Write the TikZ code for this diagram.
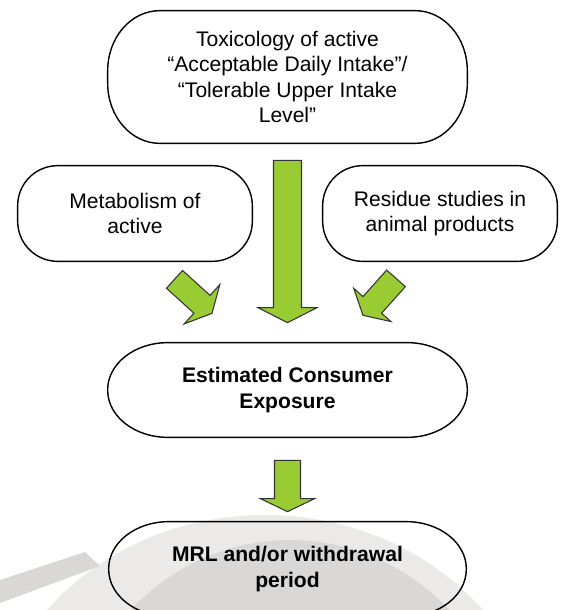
\documentclass[tikz,border=0pt]{standalone}
\usepackage{fontspec}
\setmainfont{Liberation Sans}
\usepackage{tikz}
\usetikzlibrary{calc}
\definecolor{leaf}{RGB}{153,204,51}
\definecolor{photo}{RGB}{236,234,232}
\definecolor{photodark}{RGB}{218,216,214}

% pill-shaped outline round a named node (rx, ry of the ends)
\newcommand{\pillborder}[3]{%
  \draw[boxline] ($(#1.north west)+(#2,0)$) -- ($(#1.north east)+(-#2,0)$)
    arc[start angle=90,end angle=0,x radius=#2,y radius=#3]
    -- ($(#1.south east)+(0,#3)$)
    arc[start angle=0,end angle=-90,x radius=#2,y radius=#3]
    -- ($(#1.south west)+(#2,0)$)
    arc[start angle=-90,end angle=-180,x radius=#2,y radius=#3]
    -- ($(#1.north west)+(0,-#3)$)
    arc[start angle=180,end angle=90,x radius=#2,y radius=#3] -- cycle;}

% fat green arrow: from, to, half shaft, half head, head length
\newcommand{\blockarrow}[5]{%
  \path ($(#2)!#5!(#1)$) coordinate (hb);
  \draw[greenarrow] ($(#1)!#3!90:(#2)$) -- ($(hb)!#3!90:(#2)$) -- ($(hb)!#4!90:(#2)$)
    -- (#2) -- ($(hb)!#4!-90:(#2)$) -- ($(hb)!#3!-90:(#2)$) -- ($(#1)!#3!-90:(#2)$) -- cycle;}

\tikzset{
  boxline/.style={draw=black,line width=0.8pt},
  greenarrow/.style={fill=leaf,draw=black!80,line width=0.6pt,line join=miter},
  boxtext/.style={align=center,inner sep=0pt,font=\fontsize{12}{14.5}\selectfont},
}

\begin{document}
\begin{tikzpicture}[x=0.02cm,y=0.02cm]
    \useasboundingbox (0,0) rectangle (562,610);
    \clip (0,0) rectangle (562,610);
    % faded photo behind the last box
    \fill[photo] (265,-160) ellipse [x radius=280,y radius=255];
    \fill[photodark] (290,-180) ellipse [x radius=230,y radius=250];
    \fill[photodark] (0,30) -- (85,58) -- (100,44) -- (0,7) -- cycle;

    \node[boxtext,minimum width=7.18cm,minimum height=2.64cm] (tox) at (287.5,533)
      {Toxicology of active\\“Acceptable Daily Intake”/\\“Tolerable Upper Intake\\Level”};
    \node[boxtext,minimum width=4.68cm,minimum height=1.9cm] (metab) at (135,396.5)
      {Metabolism of\\active};
    \node[boxtext,minimum width=4.68cm,minimum height=1.9cm] (resid) at (440,396.5)
      {Residue studies in\\animal products};
    \node[boxtext,minimum width=7.18cm,minimum height=1.88cm,font=\fontsize{12}{14.5}\selectfont\bfseries] (ece) at (287.5,220)
      {Estimated Consumer\\Exposure};
    \node[boxtext,minimum width=7.14cm,minimum height=1.88cm,font=\fontsize{12}{14.5}\selectfont\bfseries] (mrl) at (287.5,41)
      {MRL and/or withdrawal\\period};

    \pillborder{tox}{52}{60}
    \pillborder{metab}{40}{40}
    \pillborder{resid}{40}{40}
    \pillborder{ece}{60}{47}
    \pillborder{mrl}{60}{47}

    \coordinate (toxout) at ($(tox.south)+(0,-17)$);
    \coordinate (ecein) at ($(ece.north)+(0,20)$);
    \coordinate (metabout) at ($(metab.south)+(39.5,-18)$);
    \coordinate (metabin) at ($(metab.south)+(77,-52)$);
    \coordinate (residout) at ($(resid.south)+(-44,-17)$);
    \coordinate (residin) at ($(resid.south)+(-77,-54)$);
    \coordinate (eceout) at ($(ece.south)+(0,-23)$);
    \coordinate (mrlin) at ($(mrl.north)+(0,10)$);

    \blockarrow{toxout}{ecein}{0.28cm}{0.59cm}{0.3cm}
    \blockarrow{metabout}{metabin}{0.24cm}{0.53cm}{0.27cm}
    \blockarrow{residout}{residin}{0.25cm}{0.5cm}{0.28cm}
    \blockarrow{eceout}{mrlin}{0.26cm}{0.54cm}{0.26cm}
  \end{tikzpicture}
\end{document}
